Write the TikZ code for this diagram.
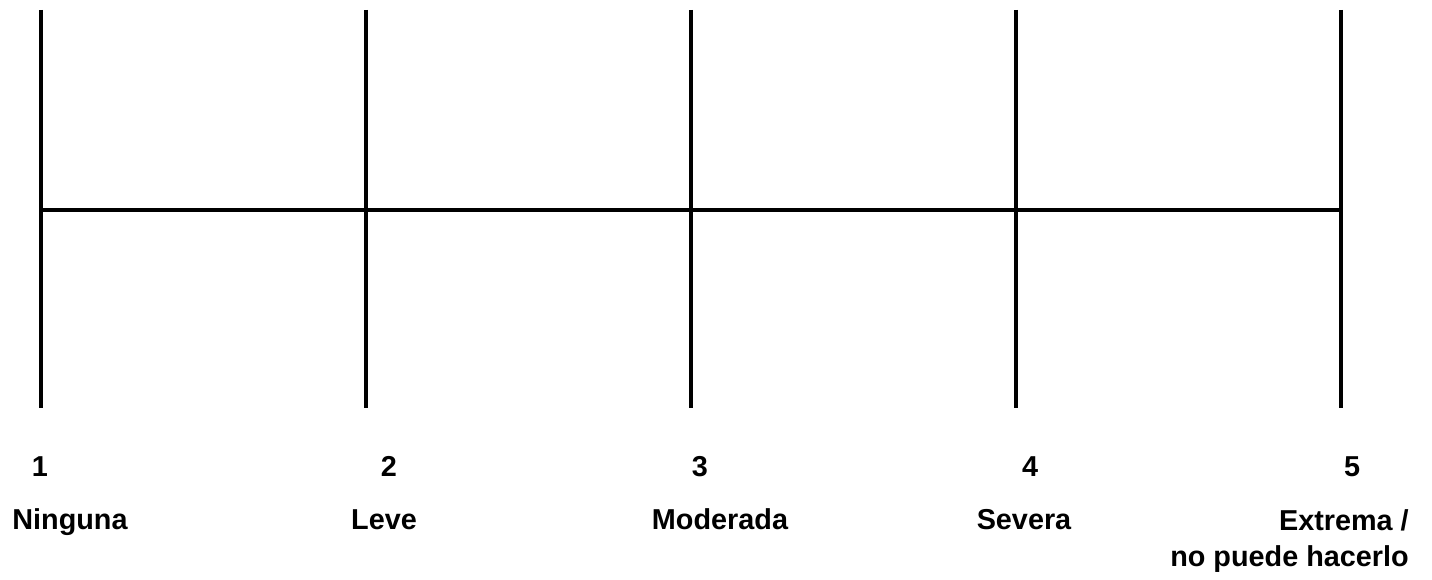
\documentclass[tikz,border=0pt]{standalone}
\usepackage{fontspec}
\setmainfont{Liberation Sans}
\begin{document}
\begin{tikzpicture}[x=0.75pt,y=-0.75pt,
  scaleline/.style={line width=3pt,black},
  lbl/.style={font=\bfseries\fontsize{21.6pt}{23pt}\selectfont,inner sep=0pt,anchor=base}]
\useasboundingbox (0,0) rectangle (1432,580);
\foreach \i/\x in {1/41,2/366,3/691,4/1016,5/1341}{
  \coordinate (t\i) at (\x,10);
  \coordinate (b\i) at (\x,408);
  \coordinate (m\i) at (\x,210);
  \draw[scaleline] (t\i) -- (b\i);
}
\draw[scaleline] (m1) -- (m5);
\node[lbl] (n1) at (40,477) {1};
\node[lbl] (n2) at (389,477) {2};
\node[lbl] (n3) at (700,477) {3};
\node[lbl] (n4) at (1030,477) {4};
\node[lbl] (n5) at (1352,477) {5};
\node[lbl] (l1) at (70,530) {Ninguna};
\node[lbl] (l2) at (384,530) {Leve};
\node[lbl] (l3) at (720,530) {Moderada};
\node[lbl] (l4) at (1024,530) {Severa};
\node[lbl,anchor=base east] (l5a) at (1409,531) {Extrema /};
\node[lbl,anchor=base east] (l5b) at (1409,567) {no puede hacerlo};
\end{tikzpicture}
\end{document}
